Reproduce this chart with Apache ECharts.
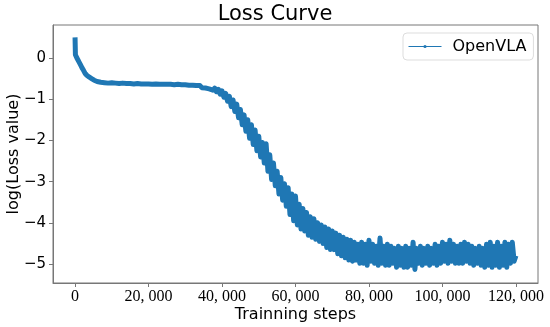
<!DOCTYPE html>
<html>
<head>
<meta charset="utf-8">
<script src="https://cdn.jsdelivr.net/npm/echarts@6/dist/echarts.min.js"></script>
<style>html,body{margin:0;padding:0;background:#fff}#c{width:550px;height:327px}</style>
</head>
<body>
<div id="c"></div>
<script>
const chartTitle = "Loss Curve";
const seriesName = "OpenVLA";
const xName = "Trainning steps";
const yName = "log(Loss value)";

const xTickValues = [0, 20000, 40000, 60000, 80000, 100000, 120000];
const xTickLabels = ["0", "20, 000", "40, 000", "60, 000", "80, 000", "100, 000", "120, 000"];
const yTickValues = [-5, -4, -3, -2, -1, 0];
const yTickLabels = ["\u22125", "\u22124", "\u22123", "\u22122", "\u22121", "0"];

const earlySteps = [0, 100, 300, 500, 800, 1100, 1500, 1900, 2300, 2700, 3200, 3800, 4500, 5200, 6000, 7000, 8000, 9000];
const earlyLoss = [0.50, 0.08, 0.10, 0.00, -0.05, -0.10, -0.17, -0.24, -0.30, -0.37, -0.42, -0.46, -0.50, -0.54, -0.57, -0.59, -0.60, -0.61];

const mainStart = 10000, mainStride = 500;
const mainLoss = [
-0.60,-0.63,-0.61,-0.64,-0.62,-0.65,-0.61,-0.64,-0.62,-0.66,
-0.62,-0.65,-0.63,-0.66,-0.62,-0.65,-0.63,-0.66,-0.63,-0.67,
-0.63,-0.66,-0.64,-0.67,-0.63,-0.66,-0.64,-0.67,-0.64,-0.68,
-0.64,-0.67,-0.64,-0.68,-0.65,-0.67,-0.64,-0.68,-0.65,-0.69,
-0.65,-0.68,-0.66,-0.70,-0.66,-0.69,-0.67,-0.71,-0.67,-0.72,
-0.68,-0.73,-0.69,-0.75,-0.71,-0.78,-0.73,-0.82,-0.76,-0.88,
-0.80,-0.95,-0.86,-1.05,-0.93,-1.18,-1.02,-1.30,-1.12,-1.45,
-1.25,-1.62,-1.38,-1.78,-1.50,-1.95,-1.62,-2.10,-1.75,-2.25,
-1.90,-2.40,-2.05,-2.55,-2.08,-2.75,-2.35,-2.95,-2.55,-3.10,
-2.75,-3.30,-2.90,-3.45,-3.05,-3.60,-3.15,-3.80,-3.30,-3.95,
-3.35,-4.05,-3.55,-4.15,-3.65,-4.20,-3.75,-4.30,-3.85,-4.35,
-3.90,-4.40,-4.00,-4.45,-4.05,-4.50,-4.10,-4.60,-4.15,-4.65,
-4.20,-4.65,-4.25,-4.75,-4.30,-4.80,-4.35,-4.85,-4.40,-4.90,
-4.42,-4.93,-4.47,-4.90,-4.52,-4.98,-4.47,-4.98,-4.52,-5.03,
-4.42,-4.93,-4.52,-4.98,-4.57,-5.03,-4.37,-4.98,-4.57,-5.03,
-4.52,-5.03,-4.57,-4.98,-4.62,-5.08,-4.57,-5.03,-4.62,-5.08,
-4.57,-5.08,-4.62,-5.03,-4.47,-5.13,-4.62,-4.98,-4.57,-5.03,
-4.62,-4.98,-4.57,-5.03,-4.62,-4.98,-4.52,-5.03,-4.57,-4.98,
-4.47,-4.93,-4.52,-4.98,-4.42,-4.93,-4.52,-4.98,-4.57,-4.98,
-4.52,-4.98,-4.47,-4.93,-4.52,-4.98,-4.57,-5.03,-4.62,-4.98,
-4.57,-5.03,-4.62,-5.08,-4.52,-5.03,-4.47,-5.08,-4.57,-5.03,
-4.47,-5.08,-4.57,-5.03,-4.47,-5.08,-4.52,-4.98,-4.47,-4.93,
-4.80];
const mainSteps = mainLoss.map((_, i) => mainStart + i * mainStride);

const steps = earlySteps.concat(mainSteps);
const loss = earlyLoss.concat(mainLoss);
const data = steps.map((s, i) => [s, loss[i]]);

const chart = echarts.init(document.getElementById('c'), null, {renderer: 'canvas'});
chart.setOption({
  animation: false,
  backgroundColor: '#fff',
  title: {
    text: chartTitle, left: 'center', top: -1,
    textStyle: {fontFamily: 'DejaVu Sans', fontSize: 21, fontWeight: 'normal', color: '#000'}
  },
  legend: {
    data: [seriesName], left: 403, top: 33,
    padding: [5, 7, 5, 5],
    itemWidth: 33, itemHeight: 4,
    borderColor: '#dddddd', borderWidth: 1, borderRadius: 4,
    backgroundColor: '#fff',
    lineStyle: {width: 1},
    textStyle: {fontFamily: 'DejaVu Sans', fontSize: 16, color: '#000', padding: [0, 0, 0, 6], lineHeight: 17}
  },
  grid: {left: 53, right: 12, top: 25, bottom: 44, containLabel: false, outerBoundsMode: 'none',
         show: true, borderColor: '#777', borderWidth: 1},
  xAxis: {
    type: 'value', min: -6000, max: 126000,
    name: xName, nameLocation: 'middle', nameGap: 24, nameMoveOverlap: false,
    nameTextStyle: {fontFamily: 'DejaVu Sans', fontSize: 16, color: '#000'},
    splitLine: {show: false},
    axisLine: {show: true, onZero: false, lineStyle: {color: '#777'}},
    axisTick: {show: true, inside: false, length: 4, customValues: xTickValues, lineStyle: {color: '#777'}},
    axisLabel: {
      customValues: xTickValues, margin: 6,
      fontFamily: 'Liberation Serif', fontSize: 16, color: '#000',
      formatter: v => xTickLabels[xTickValues.indexOf(v)]
    }
  },
  yAxis: {
    type: 'value', min: -5.46, max: 0.80,
    name: yName, nameLocation: 'middle', nameGap: 31, nameRotate: 90, nameMoveOverlap: false,
    nameTextStyle: {fontFamily: 'DejaVu Sans', fontSize: 16, color: '#000'},
    splitLine: {show: false},
    axisLine: {show: true, onZero: false, lineStyle: {color: '#777'}},
    axisTick: {show: true, inside: false, length: 4, customValues: yTickValues, lineStyle: {color: '#777'}},
    axisLabel: {
      customValues: yTickValues, margin: 7,
      fontFamily: 'DejaVu Sans', fontSize: 15, color: '#000',
      formatter: v => yTickLabels[yTickValues.indexOf(v)]
    }
  },
  series: [{
    name: seriesName, type: 'line', data: data,
    symbol: 'circle', symbolSize: 4, showSymbol: false,
    color: '#1f77b4',
    lineStyle: {width: 5, color: '#1f77b4', join: 'round'},
    itemStyle: {color: '#1f77b4'}
  }]
});
</script>
</body>
</html>
